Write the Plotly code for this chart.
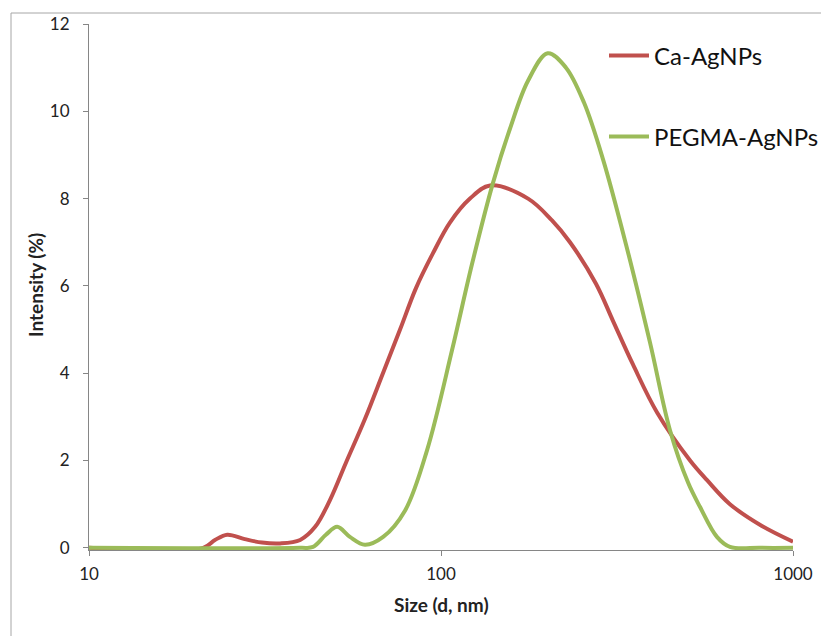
import plotly.graph_objects as go

# ---- data ----
ca_size = [10, 21.1, 22.8, 24.7, 27.7, 31.0, 34.9, 39.8, 43.9, 48.4, 53.7, 60.8, 68.4,
           76.5, 84.9, 94.9, 106, 120.9, 137.8, 176.7, 206.7, 232.5, 275.6, 308, 351,
           411, 510, 570, 662, 816, 1000]
ca_int = [0, 0, 0.18, 0.3, 0.2, 0.12, 0.1, 0.18, 0.48, 1.1, 1.95, 2.95, 4.0,
          5.0, 5.95, 6.75, 7.45, 8.0, 8.3, 8.0, 7.5, 7.0, 6.05, 5.2, 4.2,
          3.1, 2.0, 1.55, 1.0, 0.5, 0.14]

peg_size = [10, 39.8, 43.3, 47.1, 50.7, 55.1, 60.8, 68.5, 79.0, 91.3, 107.5, 122.5,
            140.5, 157.0, 176.7, 201, 226.5, 254.8, 288.6, 335.4, 392.5, 447, 503,
            544, 608, 662, 806, 1000]
peg_int = [0, 0, 0.02, 0.3, 0.48, 0.25, 0.07, 0.25, 0.85, 2.24, 4.53, 6.5,
           8.36, 9.6, 10.7, 11.33, 11.0, 10.2, 8.9, 6.95, 4.7, 2.7, 1.5,
           0.94, 0.25, 0.02, 0, 0]

x_ticks = [10, 100, 1000]
y_ticks = [0, 2, 4, 6, 8, 10, 12]
series_names = ["Ca-AgNPs", "PEGMA-AgNPs"]

RED = "#C0504D"
GREEN = "#9BBB59"
AXIS = "#868686"
FONT = "Lato"
TXT = "#222222"

W, H = 821, 636
L, R, T, B = 89, 28, 24, 86
PW, PH = W - L - R, H - T - B
YMIN = -0.05


def px2x(px):
    return (px - L) / PW


def px2y(py):
    return (H - B - py) / PH


fig = go.Figure()
fig.add_trace(go.Scatter(x=ca_size, y=ca_int, mode="lines", name=series_names[0],
                         line=dict(color=RED, width=4, shape="spline", smoothing=1),
                         legend="legend"))
fig.add_trace(go.Scatter(x=peg_size, y=peg_int, mode="lines", name=series_names[1],
                         line=dict(color=GREEN, width=4, shape="spline", smoothing=1),
                         legend="legend2"))

fig.update_layout(
    width=W, height=H,
    margin=dict(l=L, r=R, t=T, b=B, autoexpand=False),
    paper_bgcolor="white", plot_bgcolor="white",
    font=dict(family=FONT, size=17, color=TXT),
    showlegend=True,
    legend=dict(x=px2x(604), y=px2y(56), xanchor="left", yanchor="middle", itemwidth=40,
                font=dict(size=24, color="#111111"), bgcolor="rgba(0,0,0,0)"),
    legend2=dict(x=px2x(604), y=px2y(137), xanchor="left", yanchor="middle", itemwidth=40,
                 font=dict(size=24, color="#111111"), bgcolor="rgba(0,0,0,0)"),
    xaxis=dict(type="log", range=[1, 3], tickvals=x_ticks, ticktext=[str(v) for v in x_ticks],
               showgrid=False, zeroline=False, showline=True, linecolor=AXIS, linewidth=1.2,
               ticks="outside", ticklen=5, tickcolor=AXIS, ticklabelstandoff=3,
               tickfont=dict(size=17, color=TXT)),
    yaxis=dict(range=[YMIN, 12], tickvals=y_ticks, showgrid=False, zeroline=False,
               showline=True, linecolor=AXIS, linewidth=1.2,
               ticks="outside", ticklen=5, tickcolor=AXIS, ticklabelstandoff=10,
               tickfont=dict(size=17, color=TXT)),
    annotations=[
        dict(text="<b>Size (d, nm)</b>", x=px2x(441), y=px2y(604), xref="paper", yref="paper",
             showarrow=False, xanchor="center", yanchor="middle",
             font=dict(size=19, color=TXT)),
        dict(text="<b>Intensity (%)</b>", x=px2x(35), y=px2y(285), xref="paper", yref="paper",
             showarrow=False, xanchor="center", yanchor="middle", textangle=-90,
             font=dict(size=19, color=TXT)),
    ],
    shapes=[
        dict(type="line", xref="paper", yref="paper", x0=px2x(11), x1=px2x(821),
             y0=px2y(13), y1=px2y(13), line=dict(color="#a6a6a6", width=1)),
        dict(type="line", xref="paper", yref="paper", x0=px2x(11), x1=px2x(11),
             y0=px2y(13), y1=px2y(636), line=dict(color="#a6a6a6", width=1)),
    ],
)

fig.write_html("out.html")
